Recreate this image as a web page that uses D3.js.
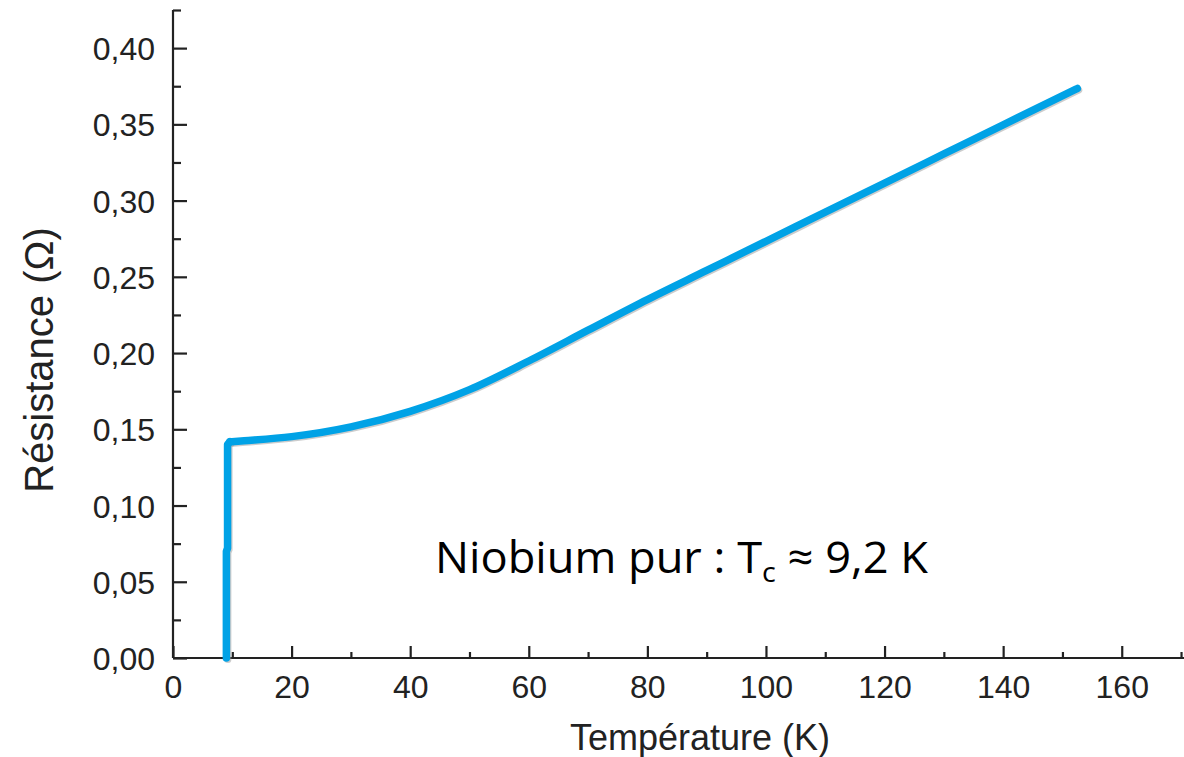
<!DOCTYPE html>
<html>
<head>
<meta charset="utf-8">
<script src="https://cdn.jsdelivr.net/npm/d3@7"></script>
<style>
  body { margin: 0; background: #fff; }
  svg { display: block; }
</style>
</head>
<body>
<script>
// courbe R(T) du niobium
var temperature = [9.0, 9.0, 9.2, 9.2, 9.6, 12, 20, 30, 40, 50, 60, 70, 80, 90, 100, 110, 120, 130, 140, 152.5];
var resistance = [0.000, 0.070, 0.072, 0.1400, 0.1418, 0.1425, 0.1452, 0.1516, 0.1618, 0.1760, 0.1948, 0.2150, 0.2351, 0.2542, 0.2733, 0.2924, 0.3115, 0.3306, 0.3497, 0.3735];
var xTicks = [0, 20, 40, 60, 80, 100, 120, 140, 160];
var yTicks = [0, 0.05, 0.10, 0.15, 0.20, 0.25, 0.30, 0.35, 0.40];

var width = 1184, height = 757;
var margin = {top: 10, right: 0, bottom: 99, left: 173};

var svg = d3.select("body")
  .append("svg")
  .attr("width", width)
  .attr("height", height);

var x = d3.scaleLinear().domain([0, 170.5]).range([margin.left, width - margin.right]);
var y = d3.scaleLinear().domain([0, 0.425]).range([height - margin.bottom, margin.top]);

var fmt = function (v) { return d3.format(".2f")(v).replace(".", ","); };

// axe des x : graduations vers l'intérieur
var xAxis = svg.append("g")
  .attr("transform", "translate(0," + y(0) + ")")
  .call(d3.axisBottom(x).tickValues(xTicks).tickSize(-12).tickPadding(0).tickFormat(d3.format("d")));
var xMinor = svg.append("g")
  .attr("transform", "translate(0," + y(0) + ")")
  .call(d3.axisBottom(x).tickValues(d3.range(10, 171, 20)).tickSize(-6).tickFormat(""));

var yAxis = svg.append("g")
  .attr("transform", "translate(" + x(0) + ",0)")
  .call(d3.axisLeft(y).tickValues(yTicks).tickSize(-14).tickPadding(0).tickFormat(fmt));
var yMinor = svg.append("g")
  .attr("transform", "translate(" + x(0) + ",0)")
  .call(d3.axisLeft(y).tickValues(d3.range(0.025, 0.43, 0.05)).tickSize(-8).tickFormat(""));

[xAxis, xMinor, yAxis, yMinor].forEach(function (g) {
  g.select(".domain").attr("stroke", "#222").attr("stroke-width", 2.2);
  g.selectAll(".tick line").attr("stroke", "#222").attr("stroke-width", 2.2);
});
// la ligne d'axe se termine sans crochet
xAxis.select(".domain").attr("d", "M" + x(0) + ",0H" + x(170.5));
xMinor.select(".domain").remove();
yAxis.select(".domain").attr("d", "M0," + y(0) + "V" + y(0.425));
yMinor.select(".domain").remove();

xAxis.selectAll(".tick text")
  .attr("y", 40).attr("dy", null)
  .attr("font-family", "Liberation Sans, Arial, sans-serif")
  .attr("font-size", 32).attr("fill", "#222");
yAxis.selectAll(".tick text")
  .attr("x", -18).attr("dy", "0.36em")
  .attr("font-family", "Liberation Sans, Arial, sans-serif")
  .attr("font-size", 32).attr("fill", "#222");

// titres des axes
svg.append("text")
  .attr("x", 700).attr("y", 750)
  .attr("text-anchor", "middle")
  .attr("font-family", "Liberation Sans, Arial, sans-serif")
  .attr("font-size", 36).attr("fill", "#222")
  .text("Température (K)");
svg.append("text")
  .attr("transform", "translate(53,360) rotate(-90)")
  .attr("text-anchor", "middle")
  .attr("font-family", "Liberation Sans, Arial, sans-serif")
  .attr("font-size", 40).attr("fill", "#222")
  .text("Résistance (Ω)");

// la courbe : chute verticale (linéaire) puis partie lisse
var pts = temperature.map(function (t, i) { return [t, resistance[i]]; });
var drop = pts.slice(0, 5);
var smooth = pts.slice(4);
var lineLin = d3.line()
  .x(function (d) { return x(d[0]); })
  .y(function (d) { return y(d[1]); });
var lineSm = d3.line()
  .x(function (d) { return x(d[0]); })
  .y(function (d) { return y(d[1]); })
  .curve(d3.curveMonotoneX);

function drawCurve(dx, color, w, op) {
  var g = svg.append("g").attr("transform", "translate(" + dx + "," + dx + ")");
  g.append("path").attr("d", lineLin(drop));
  g.append("path").attr("d", lineSm(smooth));
  g.selectAll("path")
    .attr("fill", "none")
    .attr("stroke", color)
    .attr("stroke-opacity", op)
    .attr("stroke-width", w)
    .attr("stroke-linejoin", "round")
    .attr("stroke-linecap", "round");
}
// petite ombre grise sous le trait
drawCurve(1.5, "#999", 7, 0.5);
drawCurve(0, "#00a2e6", 7.5, 1);

// annotation
var note = svg.append("text")
  .attr("x", 435).attr("y", 573)
  .attr("font-family", "Open Sans, Noto Sans, sans-serif")
  .attr("font-size", 44).attr("fill", "#000")
  .attr("textLength", 493).attr("lengthAdjust", "spacingAndGlyphs");
note.append("tspan").text("Niobium pur : T");
note.append("tspan").attr("font-size", 28).attr("dy", 9).text("c");
note.append("tspan").attr("dy", -9).text(" ≈ 9,2 K");
</script>
</body>
</html>
